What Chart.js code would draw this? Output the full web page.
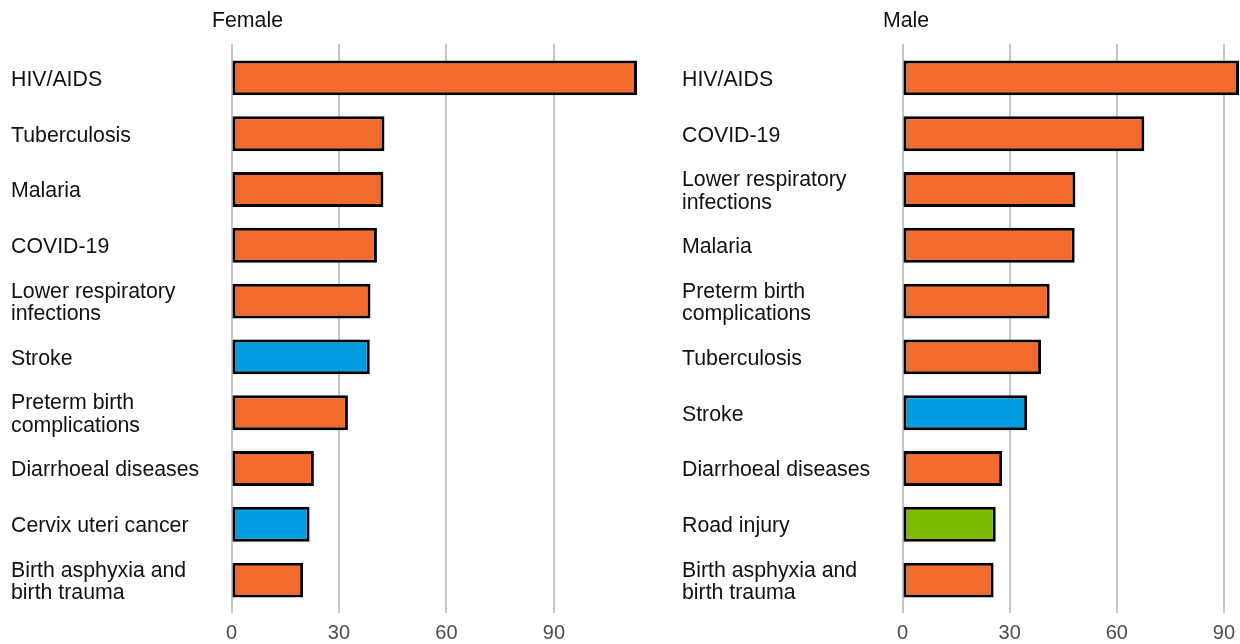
<!DOCTYPE html>
<html>
<head>
<meta charset="utf-8">
<script src="https://cdn.jsdelivr.net/npm/chart.js@4"></script>
<style>
  html, body { margin: 0; padding: 0; background: #fff; }
  #wrap { position: relative; width: 1240px; height: 644px; overflow: hidden; }
  canvas { position: absolute; top: 0; }
</style>
</head>
<body>
<div id="wrap">
  <canvas id="female" width="660" height="644" style="left:0px"></canvas>
  <canvas id="male" width="580" height="644" style="left:671px"></canvas>
</div>
<script>
const femaleCauses = [
  "HIV/AIDS", "Tuberculosis", "Malaria", "COVID-19",
  ["Lower respiratory", "infections"], "Stroke",
  ["Preterm birth", "complications"], "Diarrhoeal diseases",
  "Cervix uteri cancer", ["Birth asphyxia and", "birth trauma"]
];
const femaleValues = [113.2, 42.7, 42.4, 40.6, 38.8, 38.6, 32.5, 23.0, 21.8, 20.0];
const femaleGroups = ["comm", "comm", "comm", "comm", "comm", "ncd", "comm", "comm", "ncd", "comm"];

const maleCauses = [
  "HIV/AIDS", "COVID-19", ["Lower respiratory", "infections"], "Malaria",
  ["Preterm birth", "complications"], "Tuberculosis", "Stroke",
  "Diarrhoeal diseases", "Road injury", ["Birth asphyxia and", "birth trauma"]
];
const maleValues = [94.2, 67.7, 48.4, 48.2, 41.2, 38.8, 34.9, 27.9, 26.1, 25.5];
const maleGroups = ["comm", "comm", "comm", "comm", "comm", "comm", "ncd", "comm", "inj", "comm"];

const xTicks = [0, 30, 60, 90];

const groupColors = { comm: "#f26a2c", ncd: "#009ee0", inj: "#7fbc00" };
const FONT = "'Liberation Sans', Arial, sans-serif";
const GRID = "#c6c6c6";

// panel heading, a bit left of the zero line
const panelTitle = {
  id: "panelTitle",
  afterDraw(chart, args, opts) {
    const ctx = chart.ctx;
    ctx.save();
    ctx.font = "21.3px " + FONT;
    ctx.fillStyle = "#111";
    ctx.textAlign = "left";
    ctx.textBaseline = "middle";
    ctx.fillText(opts.text, chart.chartArea.left - 19.5, 21);
    ctx.restore();
  }
};

function makePanel(id, title, causes, values, groups, padRight) {
  const max = Math.max(...values);
  const tickCb = (v) => (xTicks.includes(v) ? v : "");
  new Chart(document.getElementById(id), {
    type: "bar",
    data: {
      labels: causes,
      datasets: [{
        data: values,
        backgroundColor: groups.map((g) => groupColors[g]),
        borderColor: "#000",
        borderWidth: 3,
        borderSkipped: false,
        barPercentage: 0.625,
        categoryPercentage: 1
      }]
    },
    options: {
      indexAxis: "y",
      responsive: false,
      animation: false,
      devicePixelRatio: 1,
      layout: { padding: { left: 11, right: padRight, top: 44, bottom: 0 } },
      plugins: {
        legend: { display: false },
        tooltip: { enabled: false },
        panelTitle: { text: title }
      },
      scales: {
        x: {
          type: "linear",
          position: "bottom",
          min: 0,
          max: max,
          afterFit: (s) => { s.height = 36; },
          border: { display: false },
          grid: { color: GRID, lineWidth: 2, tickColor: GRID, tickLength: 5, drawTicks: true },
          ticks: {
            stepSize: 30, includeBounds: false, padding: 8,
            color: "#4d4d4d", font: { family: FONT, size: 20 }, callback: tickCb
          }
        },
        x2: {
          type: "linear",
          position: "top",
          min: 0,
          max: max,
          afterFit: (s) => { s.height = 6; },
          border: { display: false },
          grid: { drawOnChartArea: false, color: GRID, lineWidth: 2, tickColor: GRID, tickLength: 6 },
          ticks: { stepSize: 30, includeBounds: false, display: false }
        },
        y: {
          afterFit: (s) => { s.width = 220.5; },
          border: { display: false },
          grid: { display: false },
          ticks: {
            crossAlign: "far",
            labelOffset: 2,
            color: "#111",
            font: { family: FONT, size: 21.3, lineHeight: 1.07 }
          }
        }
      }
    },
    plugins: [panelTitle]
  });
}

makePanel("female", "Female", femaleCauses, femaleValues, femaleGroups, 23);
makePanel("male", "Male", maleCauses, maleValues, maleGroups, 12);
</script>
</body>
</html>
